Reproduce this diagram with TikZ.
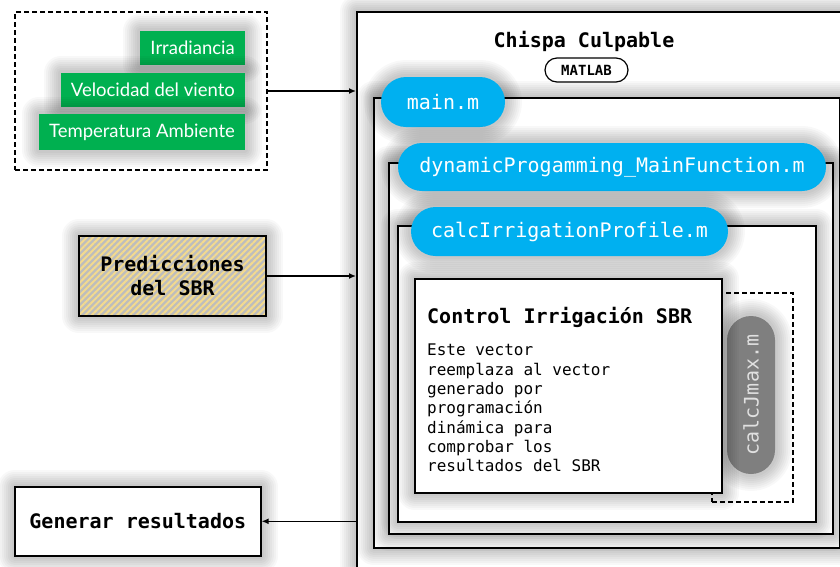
\documentclass[tikz,border=0pt]{standalone}
\usepackage{fontspec}
\setmonofont{DejaVu Sans Mono}
\newfontfamily\gillfont{Lato}
\usetikzlibrary{arrows.meta,shapes.misc,patterns.meta}

\definecolor{pillblue}{HTML}{00B0F0}
\definecolor{boxgreen}{HTML}{00B050}
\definecolor{pillgray}{HTML}{7F7F7F}
\definecolor{hatchyellow}{HTML}{F3DA8E}
\definecolor{hatchgray}{HTML}{BDBDBD}

\tikzset{
  glow/.style={preaction={draw=black, draw opacity=0.028, line join=round, line width=#1}},
  softshadow/.style={glow=34pt, glow=30pt, glow=26pt, glow=22pt, glow=18pt,
    glow=14pt, glow=10pt, glow=6pt},
  box/.style={draw, line width=1.6pt, fill=white, softshadow, anchor=north west, inner sep=0pt},
  pill/.style={rounded rectangle, fill=pillblue, text=white, softshadow, inner sep=0pt,
    font=\ttfamily\fontsize{20}{24}\selectfont},
  invar/.style={fill=boxgreen, text=white, softshadow, anchor=east, inner xsep=10pt,
    minimum height=34pt, font=\gillfont\fontsize{18.5}{22}\selectfont},
  bigmono/.style={font=\ttfamily\bfseries\fontsize{20}{24}\selectfont},
  flow/.style={-{Latex[length=7pt,width=6pt]}, line width=1.5pt},
}

\begin{document}
\begin{tikzpicture}[x=1pt,y=1pt]
  \clip (0,0) rectangle (840,-566);
  \fill[white] (0,0) rectangle (840,-566);

  \node[draw, dash pattern=on 5pt off 3pt, line width=2pt, anchor=north west,
    minimum width=252pt, minimum height=158pt] (inputs) at (14,-11) {};
  \node[invar] (irr) at (245,-48) {Irradiancia};
  \node[invar] (viento) at (245,-90) {Velocidad del viento};
  \node[invar, minimum height=36pt] (temp) at (245,-132) {Temperatura Ambiente};

  \node[draw, line width=1.8pt, softshadow, preaction={fill=hatchgray},
    pattern={Lines[angle=45,distance=4.5pt,line width=2pt]}, pattern color=hatchyellow,
    anchor=north west, minimum width=187pt, minimum height=80pt, inner sep=0pt,
    bigmono, align=center] (pred) at (78,-235) {Predicciones\\del SBR};

  \node[box, minimum width=246pt, minimum height=69pt] (gen) at (14,-486) {};
  \node[bigmono] at (gen.center) {Generar resultados};

  \node[box, minimum width=520pt, minimum height=600pt] (chispa) at (356,-11) {};
  \node[bigmono, anchor=base] (titulo) at (584,-47) {Chispa Culpable};
  \node[rounded rectangle, draw, line width=1.2pt, fill=white, inner sep=0pt,
    minimum width=83pt, minimum height=24pt,
    font=\ttfamily\bfseries\fontsize{14}{16}\selectfont] (matlab) at (586.5,-70) {MATLAB};

  \node[box, minimum width=466pt, minimum height=450pt] (mainbox) at (373,-97) {};
  \node[pill, minimum width=124pt, minimum height=50pt] (mainm) at (443,-102) {main.m};

  \node[box, minimum width=444pt, minimum height=371pt] (dynbox) at (388,-162) {};
  \node[pill, minimum width=428pt, minimum height=48pt] (dynm) at (612,-167) {dynamicProgamming\_MainFunction.m};

  \node[box, minimum width=418pt, minimum height=296pt] (profbox) at (397,-225) {};
  \node[pill, minimum width=317pt, minimum height=49pt] (profm) at (569.5,-231.5) {calcIrrigationProfile.m};

  \node[draw, dash pattern=on 5pt off 3pt, line width=1.8pt, anchor=north west,
    minimum width=81pt, minimum height=209pt] (jmaxbox) at (711,-292) {};
  \node[pill, fill=pillgray, text=black!12, rotate=90, minimum width=158pt,
    minimum height=48pt] (jmaxm) at (751,-395) {calcJmax.m};

  \node[box, minimum width=307pt, minimum height=214pt] (ctrl) at (414,-278) {};
  \node[bigmono, anchor=base west, inner sep=0pt] (ctrltit) at (427,-323) {Control Irrigación SBR};
  \node[anchor=north west, inner sep=0pt, align=left,
    font=\ttfamily\fontsize{16}{19.3}\selectfont] (ctrltxt) at (427,-344)
    {Este vector\\reemplaza al vector\\generado por\\programación\\dinámica para\\comprobar los\\resultados del SBR};

  \draw[flow] (inputs.east) -- (inputs.east -| chispa.west);
  \draw[flow] (pred.east) -- (pred.east -| chispa.west);
  \draw[flow] (gen.east -| chispa.west) -- (gen.east);
\end{tikzpicture}
\end{document}
